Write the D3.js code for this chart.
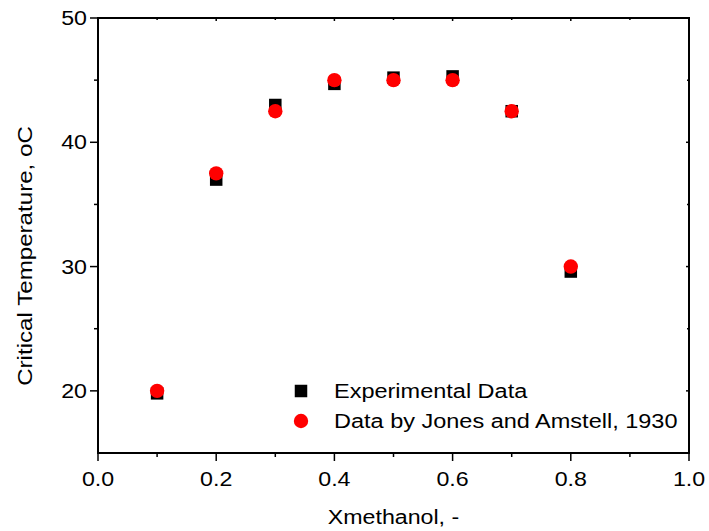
<!DOCTYPE html>
<html><head><meta charset="utf-8">
<script src="https://cdn.jsdelivr.net/npm/d3@7"></script>
<style>body{margin:0;background:#fff}svg{display:block}text{font-family:"Liberation Sans",Arial,sans-serif}</style>
</head><body>
<svg id="c" width="709" height="531"></svg>
<script>
const xValues = [0.1, 0.2, 0.3, 0.4, 0.5, 0.6, 0.7, 0.8];
const experimental = [19.8, 37.0, 43.0, 44.7, 45.2, 45.3, 42.5, 29.6];
const jonesAmstell = [20.0, 37.5, 42.5, 45.0, 45.0, 45.0, 42.5, 30.0];
const xTicks = [0.0, 0.2, 0.4, 0.6, 0.8, 1.0];
const yTicks = [20, 30, 40, 50];
const seriesNames = ["Experimental Data", "Data by Jones and Amstell, 1930"];

const svg = d3.select("#c");
const L = 98, R = 689, T = 18, B = 453;
const x = d3.scaleLinear().domain([0, 1]).range([L, R]);
const y = d3.scaleLinear().domain([15, 50]).range([B, T]);
const FS = 20, SX = 1.16;

// frame
svg.append("rect").attr("x", L).attr("y", T).attr("width", R - L).attr("height", B - T)
  .attr("fill", "none").attr("stroke", "#000").attr("stroke-width", 2);

// ticks
const xMinor = [0.1, 0.3, 0.5, 0.7, 0.9];
const yMinor = [25, 35, 45];
const g = svg.append("g").attr("stroke", "#000").attr("stroke-width", 1.5);
xTicks.forEach(v => { g.append("line").attr("x1", x(v)).attr("x2", x(v)).attr("y1", B).attr("y2", B + 8);
  g.append("line").attr("x1", x(v)).attr("x2", x(v)).attr("y1", T).attr("y2", T + 3); });
xMinor.forEach(v => { g.append("line").attr("x1", x(v)).attr("x2", x(v)).attr("y1", B).attr("y2", B + 4);
  g.append("line").attr("x1", x(v)).attr("x2", x(v)).attr("y1", T).attr("y2", T + 2); });
yTicks.forEach(v => { g.append("line").attr("x1", L - 8).attr("x2", L).attr("y1", y(v)).attr("y2", y(v));
  g.append("line").attr("x1", R - 3).attr("x2", R).attr("y1", y(v)).attr("y2", y(v)); });
yMinor.forEach(v => { g.append("line").attr("x1", L - 4).attr("x2", L).attr("y1", y(v)).attr("y2", y(v));
  g.append("line").attr("x1", R - 2).attr("x2", R).attr("y1", y(v)).attr("y2", y(v)); });

// tick labels
xTicks.forEach(v => {
  svg.append("text").attr("transform", `translate(${x(v)},${B + 33}) scale(${SX},1)`)
    .attr("text-anchor", "middle").attr("font-size", FS).text(d3.format(".1f")(v));
});
yTicks.forEach(v => {
  svg.append("text").attr("transform", `translate(${L - 11},${y(v) + 7}) scale(${SX},1)`)
    .attr("text-anchor", "end").attr("font-size", FS).text(v);
});

// axis titles
svg.append("text").attr("transform", `translate(${(L + R) / 2},${524}) scale(${SX},1)`)
  .attr("text-anchor", "middle").attr("font-size", FS).text("Xmethanol, -");
svg.append("text").attr("transform", `translate(32,256) rotate(-90) scale(1.15,1)`)
  .attr("text-anchor", "middle").attr("font-size", 21).text("Critical Temperature, oC");

// data
const sq = 12.5;
svg.append("g").selectAll("rect").data(xValues).join("rect")
  .attr("x", (d) => x(d) - sq / 2).attr("y", (d, i) => y(experimental[i]) - sq / 2)
  .attr("width", sq).attr("height", sq).attr("fill", "#000");
svg.append("g").selectAll("circle").data(xValues).join("circle")
  .attr("cx", d => x(d)).attr("cy", (d, i) => y(jonesAmstell[i])).attr("r", 7.2).attr("fill", "#ff0000");

// legend
const lx = 301, ly = [391, 421];
svg.append("rect").attr("x", lx - sq / 2).attr("y", ly[0] - sq / 2).attr("width", sq).attr("height", sq).attr("fill", "#000");
svg.append("circle").attr("cx", lx).attr("cy", ly[1]).attr("r", 7.2).attr("fill", "#ff0000");
seriesNames.forEach((n, i) => {
  svg.append("text").attr("transform", `translate(334,${ly[i] + 7}) scale(1.175,1)`)
    .attr("font-size", FS).text(n);
});
</script>
</body></html>
